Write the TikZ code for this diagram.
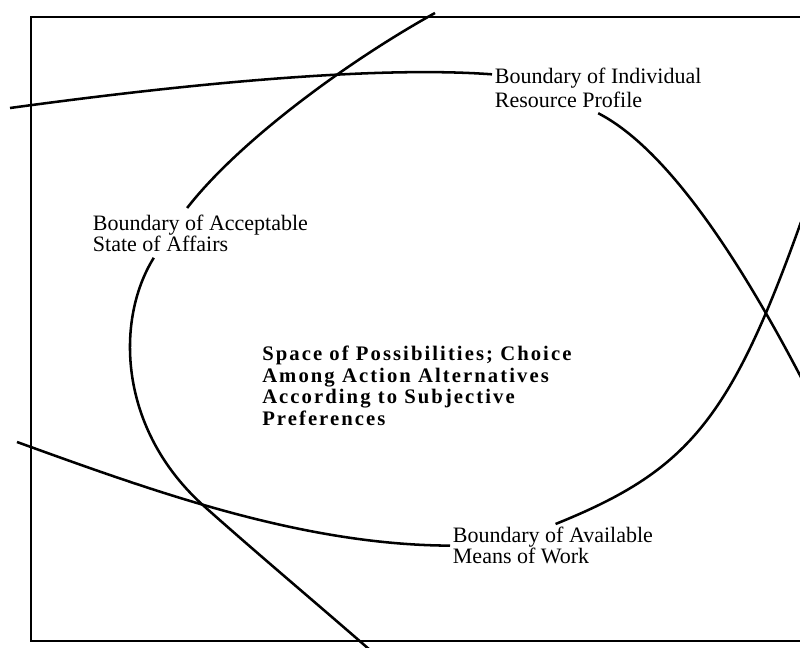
\documentclass[tikz,border=0pt]{standalone}
\usepackage{fontspec}
\setmainfont{Liberation Serif}
\newfontfamily\possfont[LetterSpace=10]{Liberation Serif}

\tikzset{
    bound/.style={line width=1.9pt},
    boundlabel/.style={anchor=north west,inner sep=2pt,align=left,font=\fontsize{16.5}{15}\selectfont},
    spacelabel/.style={anchor=north west,inner sep=0pt,align=left,font=\possfont\bfseries\fontsize{15.5}{16.1}\selectfont}
}

\begin{document}
\begin{tikzpicture}[x=0.75pt,y=-0.75pt]
        \useasboundingbox (0,0) rectangle (800,648);
        \clip (0,0) rectangle (800,648);
        \draw[line width=1.8pt] (31,17) rectangle (820,641);

        \node[boundlabel,font=\fontsize{16.5}{18}\selectfont] (ind) at (492,65) {Boundary of Individual\\Resource Profile};
        \node[boundlabel] (acc) at (90,212) {Boundary of Acceptable\\State of Affairs};
        \node[boundlabel] (avl) at (450,524) {Boundary of Available\\Means of Work};
        \node[spacelabel] (poss) at (262,346) {Space of Possibilities; Choice\\Among Action Alternatives\\According to Subjective\\Preferences};

        \coordinate (indL) at (10,108);
        \coordinate (indR) at (805,385);
        \coordinate (accT) at (435,13);
        \coordinate (accB) at (370,650);
        \coordinate (avlL) at (17,442);
        \coordinate (avlR) at (801,222);

        \draw[bound] (indL) .. controls (200,82) and (380,66) .. ([yshift=-7pt]ind.north west);
        \draw[bound] ([yshift=-2pt]ind.south) .. controls (660,145) and (730,240) .. (indR);
        \draw[bound] (accT) .. controls (350,60) and (240,140) .. ([xshift=-10pt,yshift=3pt]acc.north);
        \draw[bound] ([xshift=-35pt,yshift=-2pt]acc.south) .. controls (115,320) and (118,430) .. (205,507)
            .. controls (260,556) and (315,602) .. (accB);
        \draw[bound] (avlL) .. controls (150,490) and (300,545) .. (avl.west);
        \draw[bound] ([xshift=2pt]avl.north) .. controls (687,471) and (730,421) .. (avlR);
\end{tikzpicture}
\end{document}
